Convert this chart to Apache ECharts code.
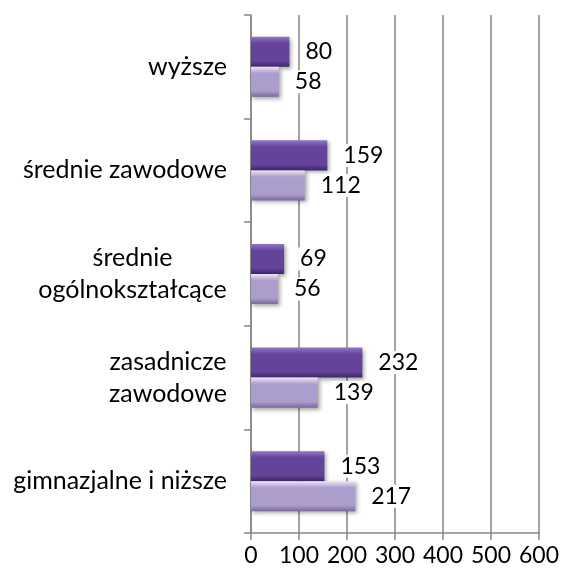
<!DOCTYPE html>
<html>
<head>
<meta charset="utf-8">
<script src="https://cdn.jsdelivr.net/npm/echarts@6/dist/echarts.min.js"></script>
<style>
  html, body { margin: 0; padding: 0; background: #fff; }
  #chart { width: 564px; height: 576px; }
</style>
</head>
<body>
<div id="chart"></div>
<script>
// kategorie od góry do dołu
const categories = ['wyższe', 'średnie zawodowe', 'średnie\nogólnokształcące', 'zasadnicze\nzawodowe', 'gimnazjalne i niższe'];
const darkValues = [80, 159, 69, 232, 153];
const lightValues = [58, 112, 56, 139, 217];
const xTicks = [0, 100, 200, 300, 400, 500, 600];

const FONT = 'Lato, "Open Sans", sans-serif';
const FS = 23;      // liczby
const FS_CAT = 25;  // nazwy kategorii

// etykiety dwuwierszowe: linie wyśrodkowane, blok dosunięty do prawej
const ctx = document.createElement('canvas').getContext('2d');
ctx.font = FS_CAT + 'px Lato';
const blockWidth = s => Math.max(...s.split('\n').map(l => Math.ceil(ctx.measureText(l).width)));

const yData = categories.map(c => {
  if (c.indexOf('\n') < 0) return c;
  return { value: c, textStyle: { align: 'center', padding: [0, blockWidth(c), 0, 0] } };
});

const chart = echarts.init(document.getElementById('chart'));

const grad = (top, mid, bottom) => new echarts.graphic.LinearGradient(0, 0, 0, 1, [
  { offset: 0, color: top },
  { offset: 0.22, color: mid },
  { offset: 0.8, color: mid },
  { offset: 1, color: bottom }
]);

const labelStyle = {
  show: true,
  position: 'right',
  distance: 14,
  color: '#000',
  fontSize: FS,
  fontFamily: FONT,
  backgroundColor: '#fff',
  padding: [0, 2]
};

chart.setOption({
  animation: false,
  grid: { left: 251, right: 25, top: 15, bottom: 43 },
  xAxis: {
    type: 'value',
    min: xTicks[0],
    max: xTicks[xTicks.length - 1],
    interval: 100,
    axisLine: { show: true, lineStyle: { color: '#868686', width: 1.5 } },
    axisTick: { show: true, length: 7, lineStyle: { color: '#868686', width: 1.5 } },
    axisLabel: { color: '#000', fontSize: FS, margin: 11, fontFamily: FONT },
    splitLine: { show: true, lineStyle: { color: '#868686', width: 1.5 } }
  },
  yAxis: {
    type: 'category',
    inverse: true,
    data: yData,
    axisLine: { show: true, lineStyle: { color: '#868686', width: 1.5 } },
    axisTick: { show: true, length: 7, lineStyle: { color: '#868686', width: 1.5 } },
    axisLabel: {
      margin: 24,
      align: 'right',
      color: '#000',
      fontSize: FS_CAT,
      fontFamily: FONT,
      lineHeight: 32
    }
  },
  series: [
    {
      type: 'bar',
      data: darkValues,
      barGap: '0%',
      barCategoryGap: '42%',
      itemStyle: {
        color: grad('#9277c6', '#63449a', '#3e2668'),
        shadowColor: 'rgba(0,0,0,0.35)',
        shadowBlur: 4,
        shadowOffsetX: 2,
        shadowOffsetY: 2
      },
      label: labelStyle
    },
    {
      type: 'bar',
      data: lightValues,
      itemStyle: {
        color: grad('#f0e4fa', '#ab9dcc', '#7a6a9c'),
        shadowColor: 'rgba(0,0,0,0.35)',
        shadowBlur: 4,
        shadowOffsetX: 2,
        shadowOffsetY: 2
      },
      label: labelStyle
    }
  ]
});
</script>
</body>
</html>
